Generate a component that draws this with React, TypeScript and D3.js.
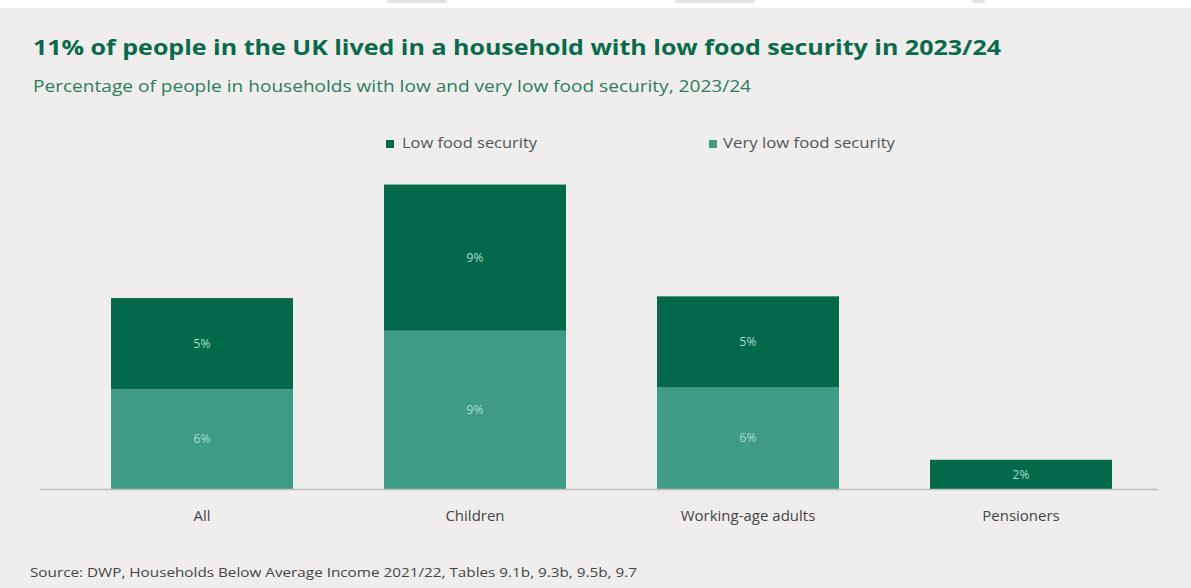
import React from "react";
import * as d3 from "d3";

const categories = ["All", "Children", "Working-age adults", "Pensioners"];
const lowFood = [5.3, 8.5, 5.3, 1.7];
const veryLowFood = [5.8, 9.2, 5.9, 0];
const seriesNames = ["Low food security", "Very low food security"];

const W = 1191;
const H = 588;
const DARK = "#03694a";
const LIGHT = "#3f9b86";
const LABEL = "#a7dfc9";

export default function App() {
  const x = d3.scaleBand<string>().domain(categories).range([65.5, 1157.5]).paddingInner(1 / 3).paddingOuter(1 / 6);
  const y = d3.scaleLinear().domain([0, 20]).range([489, 145]);
  const fmt = (v: number) => `${Math.round(v)}%`;
  const font = "'Open Sans', sans-serif";

  return (
    <svg width={W} height={H} style={{ position: "absolute", left: 0, top: 0 }} fontFamily={font}>
      <rect x={0} y={0} width={W} height={H} fill="#ffffff" />
      <rect x={0} y={8} width={W} height={H - 8} fill="#efeeec" />
      <rect x={387} y={0} width={60} height={3} rx={1.5} fill="#e2e2e2" />
      <rect x={675} y={0} width={80} height={3} rx={1.5} fill="#e2e2e2" />
      <rect x={972} y={0} width={13} height={3} rx={1.5} fill="#e2e2e2" />

      <text x={33} y={55} fontSize={22} fontWeight={700} fill="#0b6a4b" textLength={968} lengthAdjust="spacingAndGlyphs">
        11% of people in the UK lived in a household with low food security in 2023/24
      </text>
      <text x={33} y={92} fontSize={15.5} fill="#2c7d5e" textLength={718} lengthAdjust="spacingAndGlyphs">
        Percentage of people in households with low and very low food security, 2023/24
      </text>

      {/* legend */}
      <rect x={386} y={140} width={8} height={8} fill={DARK} />
      <text x={402} y={148} fontSize={14.5} fill="#555555" textLength={135} lengthAdjust="spacingAndGlyphs">{seriesNames[0]}</text>
      <rect x={709} y={140} width={8} height={8} fill={LIGHT} />
      <text x={723} y={148} fontSize={14.5} fill="#555555" textLength={172} lengthAdjust="spacingAndGlyphs">{seriesNames[1]}</text>

      {categories.map((c, i) => {
        const x0 = x(c)!;
        const bw = x.bandwidth();
        const v1 = veryLowFood[i];
        const v2 = lowFood[i];
        return (
          <g key={c}>
            {v1 > 0 && (
              <rect x={x0} y={y(v1)} width={bw} height={y(0) - y(v1)} fill={LIGHT} />
            )}
            {v2 > 0 && (
              <rect x={x0} y={y(v1 + v2)} width={bw} height={y(v1) - y(v1 + v2)} fill={DARK} />
            )}
            {v1 > 0 && (
              <text x={x0 + bw / 2} y={(y(0) + y(v1)) / 2} dy="0.35em" textAnchor="middle" fontSize={12} fill={LABEL}>
                {fmt(v1)}
              </text>
            )}
            {v2 > 0 && (
              <text x={x0 + bw / 2} y={(y(v1) + y(v1 + v2)) / 2} dy="0.35em" textAnchor="middle" fontSize={12} fill={LABEL}>
                {fmt(v2)}
              </text>
            )}
            <text x={x0 + bw / 2} y={521} textAnchor="middle" fontSize={15} fill="#444444">{c}</text>
          </g>
        );
      })}

      <line x1={40} x2={1158} y1={489.5} y2={489.5} stroke="#bdbdbd" strokeWidth={1.5} />

      <text x={30} y={577} fontSize={12.5} fill="#444444" textLength={607} lengthAdjust="spacingAndGlyphs">
        Source: DWP, Households Below Average Income 2021/22,  Tables 9.1b, 9.3b, 9.5b, 9.7
      </text>
    </svg>
  );
}
